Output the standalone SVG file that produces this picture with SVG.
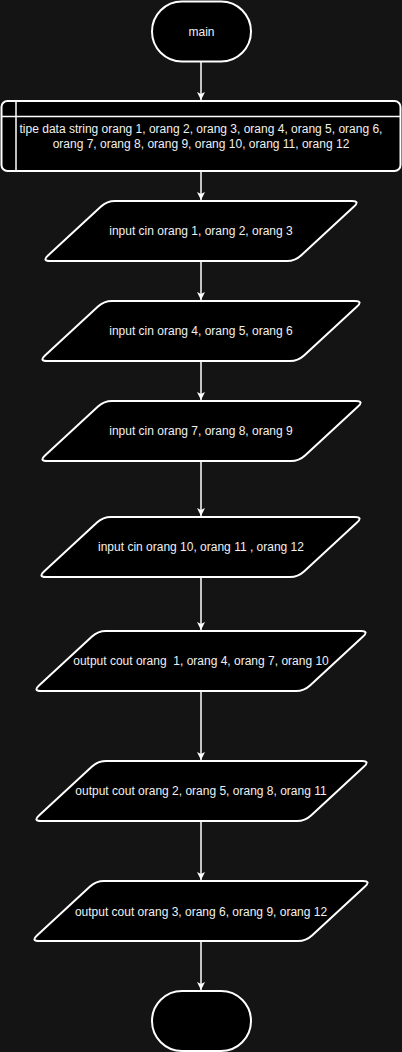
<svg xmlns="http://www.w3.org/2000/svg" width="402" height="1052" viewBox="0 0 402 1052">
<style>
.bg{fill:#141414}
.n{fill:#000;stroke:#fff;stroke-width:2;stroke-linejoin:round}
.l{stroke:#fff;stroke-width:1.5;fill:none}
.t{fill:#f0f0f0;font-family:"Liberation Sans",Arial,sans-serif;font-size:12px;text-anchor:middle}
</style>
<defs>
<marker id="arr" viewBox="0 0 8 8" refX="8" refY="4" markerWidth="8" markerHeight="8" markerUnits="userSpaceOnUse" orient="auto">
<path d="M0,0 L8,4 L0,8 L2,4 Z" fill="#fff"/>
</marker>
</defs>
<rect class="bg" x="0" y="0" width="402" height="1052"/>
<g id="connectors">
<line class="l" x1="201" y1="62" x2="201" y2="100" marker-end="url(#arr)"/>
<line class="l" x1="201" y1="172" x2="201" y2="200" marker-end="url(#arr)"/>
<line class="l" x1="201" y1="262" x2="201" y2="300" marker-end="url(#arr)"/>
<line class="l" x1="201" y1="362" x2="201" y2="400" marker-end="url(#arr)"/>
<line class="l" x1="201" y1="462" x2="201" y2="516" marker-end="url(#arr)"/>
<line class="l" x1="201" y1="578" x2="201" y2="630" marker-end="url(#arr)"/>
<line class="l" x1="201" y1="692" x2="201" y2="760" marker-end="url(#arr)"/>
<line class="l" x1="201" y1="822" x2="201" y2="880" marker-end="url(#arr)"/>
<line class="l" x1="201" y1="942" x2="201" y2="990" marker-end="url(#arr)"/>
</g>
<g id="start">
<rect class="n" x="152" y="1.5" width="99" height="60" rx="30"/>
<text class="t" x="201.5" y="35.5">main</text>
</g>
<g id="decl">
<rect class="n" x="1.5" y="101" width="399" height="70" rx="6"/>
<line class="l" x1="16" y1="101" x2="16" y2="171" stroke-width="2"/>
<line class="l" x1="1.5" y1="116.5" x2="400.5" y2="116.5" stroke-width="2"/>
<text class="t" x="201" y="133">tipe data string orang 1, orang 2, orang 3, orang 4, orang 5, orang 6,</text>
<text class="t" x="201" y="148">orang 7, orang 8, orang 9, orang 10, orang 11, orang 12</text>
</g>
<g id="in1">
<path class="n" d="M115,201 L352,201 Q360,201 354,206.5 L301,255.5 Q295,261 287,261 L50,261 Q42,261 48,255.5 L101,206.5 Q107,201 115,201 Z"/>
<text class="t" x="201" y="235">input cin orang 1, orang 2, orang 3</text>
</g>
<g id="in2">
<path class="n" d="M112,301 L355,301 Q363,301 357,306.5 L304,355.5 Q298,361 290,361 L47,361 Q39,361 45,355.5 L98,306.5 Q104,301 112,301 Z"/>
<text class="t" x="201" y="335">input cin orang 4, orang 5, orang 6</text>
</g>
<g id="in3">
<path class="n" d="M112,401 L356,401 Q364,401 358,406.5 L305,455.5 Q299,461 291,461 L47,461 Q39,461 45,455.5 L98,406.5 Q104,401 112,401 Z"/>
<text class="t" x="201" y="435">input cin orang 7, orang 8, orang 9</text>
</g>
<g id="in4">
<path class="n" d="M111,517 L355,517 Q363,517 357,522.5 L304,571.5 Q298,577 290,577 L46,577 Q38,577 44,571.5 L97,522.5 Q103,517 111,517 Z"/>
<text class="t" x="201" y="551">input cin orang 10, orang 11 , orang 12</text>
</g>
<g id="out1">
<path class="n" d="M106,631 L361,631 Q369,631 363,636.5 L310,685.5 Q304,691 296,691 L41,691 Q33,691 39,685.5 L92,636.5 Q98,631 106,631 Z"/>
<text class="t" x="201" y="665" xml:space="preserve">output cout orang  1, orang 4, orang 7, orang 10</text>
</g>
<g id="out2">
<path class="n" d="M106,761 L362,761 Q370,761 364,766.5 L311,815.5 Q305,821 297,821 L41,821 Q33,821 39,815.5 L92,766.5 Q98,761 106,761 Z"/>
<text class="t" x="201" y="795">output cout orang 2, orang 5, orang 8, orang 11</text>
</g>
<g id="out3">
<path class="n" d="M104,881 L363,881 Q371,881 365,886.5 L312,935.5 Q306,941 298,941 L39,941 Q31,941 37,935.5 L90,886.5 Q96,881 104,881 Z"/>
<text class="t" x="201" y="915.5">output cout orang 3, orang 6, orang 9, orang 12</text>
</g>
<g id="end">
<rect class="n" x="152" y="991" width="99" height="60" rx="30"/>
</g>
</svg>
